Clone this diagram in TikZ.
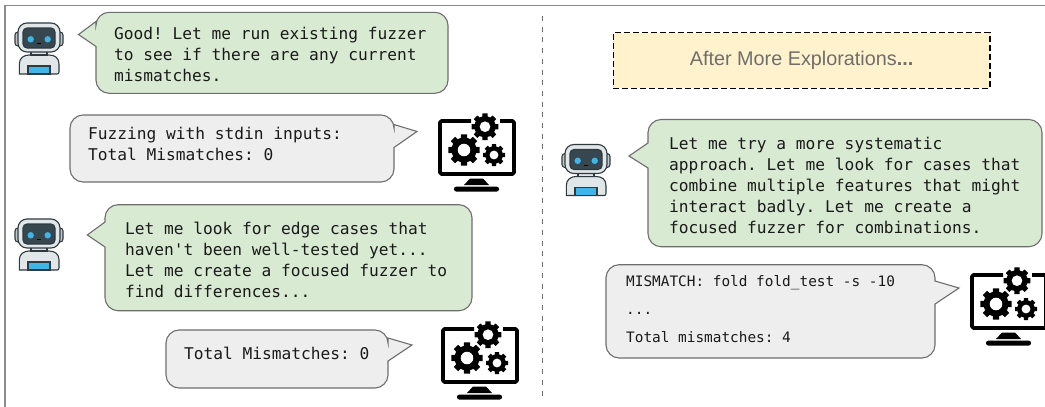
\documentclass[tikz,border=0pt]{standalone}
\usepackage{fontspec}
\setmonofont{DejaVu Sans Mono}
\setmainfont{Liberation Sans}
\definecolor{gbub}{HTML}{D9EAD3}
\definecolor{gybub}{HTML}{EEEEEE}
\definecolor{edgeg}{HTML}{6E6E6E}
\definecolor{yel}{HTML}{FFF2CC}
\definecolor{txt}{HTML}{1A1A1A}
\definecolor{robb}{HTML}{3FB5E8}
\definecolor{robd}{HTML}{2F3A40}
\definecolor{robs}{HTML}{37474F}
\definecolor{robl}{HTML}{E1E6E8}
\tikzset{
 x=1pt,y=-1pt,
 bub/.style={draw=edgeg,line width=1.1pt,line join=miter},
 greenbub/.style={bub,fill=gbub},
 graybub/.style={bub,fill=gybub},
 say/.style={font=\ttfamily\fontsize{16.2}{21}\selectfont,text=txt,inner sep=0pt,anchor=north west,align=left},
 mono/.style={font=\ttfamily\fontsize{14.4}{28}\selectfont,text=txt,inner sep=0pt,anchor=north west,align=left},
 robline/.style={draw=robd,line width=1.1pt},
}
\newcommand{\cTR}[2]{.. controls (#1-6,#2) and (#1,#2+6) .. (#1,#2+13)}
\newcommand{\cBR}[2]{.. controls (#1,#2-6) and (#1-6,#2) .. (#1-13,#2)}
\newcommand{\cBL}[2]{.. controls (#1+6,#2) and (#1,#2-6) .. (#1,#2-13)}
\newcommand{\cTL}[2]{.. controls (#1,#2+6) and (#1+6,#2) .. (#1+13,#2)}
\newcommand{\bubL}[7]{\path[#7] (#1+13,#2) -- (#3-13,#2) \cTR{#3}{#2} -- (#3,#4-13) \cBR{#3}{#4} -- (#1+13,#4) \cBL{#1}{#4} -- (#1,#6+12) -- (#5,#6) -- (#1,#6-13) -- (#1,#2+13) \cTL{#1}{#2} -- cycle;}
\newcommand{\bubR}[7]{\path[#7] (#1+13,#2) -- (#3-13,#2) \cTR{#3}{#2} -- (#3,#6-7) -- (#5,#6) -- (#3,#6+16) -- (#3,#4-13) \cBR{#3}{#4} -- (#1+13,#4) \cBL{#1}{#4} -- (#1,#2+13) \cTL{#1}{#2} -- cycle;}
\newcommand{\gearat}[3]{%
 \begin{scope}[shift={(#1,#2)}]
 \foreach \a in {0,45,...,315}{\fill[black,rotate=\a] (-.26*#3,0) -- (-.19*#3,#3) -- (.19*#3,#3) -- (.26*#3,0) -- cycle;}
 \fill[black] (0,0) circle[radius=.8*#3];
 \fill[white] (0,0) circle[radius=.4*#3];
 \end{scope}}
\newcommand{\monitorat}[2]{%
 \begin{scope}[shift={(#1,#2)}]
 \draw[black,line width=3.8pt,line join=round,rounded corners=1.5pt] (33,2) -- (2,2) -- (2,55) -- (76,55) -- (76,2) -- (62,2);
 \fill[black] (32,59.5) -- (45,59.5) -- (51,66) -- (26,66) -- cycle;
 \fill[black,rounded corners=2.2pt] (16,67.7) rectangle (61,72.5);
 \gearat{47}{7.7}{13.3}
 \gearat{26}{31}{15.7}
 \gearat{56}{36}{11}
 \end{scope}}
\newcommand{\robotat}[2]{%
 \begin{scope}[shift={(#1,#2)}]
 \path[robline,fill=robl] (5.3,52) -- (5.3,42) .. controls (5.3,36) and (10,33) .. (15,33) -- (35,33) .. controls (41,33) and (45,36) .. (45,42) -- (45,50) .. controls (45,51.5) and (44,52) .. (43,52) -- cycle;
 \path[robline,fill=robb] (14,52) -- (14,44) -- (36,44) -- (36,52) -- cycle;
 \path[robline,fill=robl] (17,29) rectangle (33,33);
 \path[robline,fill=robl!70!gray,rounded corners=3pt] (1,10) rectangle (49,24);
 \path[robline,fill=robl,rounded corners=9pt] (4,1) rectangle (46,30);
 \path[robline,fill=robs,rounded corners=4pt] (9,6) rectangle (41,26);
 \fill[robb] (16.7,17.3) circle[radius=3.2] (33.7,17.3) circle[radius=3.2];
 \draw[black,line width=.9pt] (23,21.5) -- (27,21.5);
 \end{scope}}
\begin{document}
\begin{tikzpicture}
\useasboundingbox (0,0) rectangle (1045,407);
\fill[white] (0,0) rectangle (1045,407);
\draw[gray!90,line width=1.3pt] (5,407) -- (5,5.5) -- (1045,5.5);
\draw[edgeg,line width=.9pt,dash pattern=on 5pt off 5.7pt] (542,16) -- (542,398);

\robotat{14}{22}
\bubL{96}{12.3}{448}{93.3}{78.5}{34.5}{greenbub}
\node[say] (a1) at (114,26.5) {Good! Let me run existing fuzzer\\to see if there are any current\\mismatches.};

\bubR{70}{115}{394}{182}{417}{131.5}{graybub}
\node[say] (a2) at (88,126.5) {Fuzzing with stdin inputs:\\Total Mismatches: 0};
\monitorat{438}{119}

\robotat{14}{218}
\bubL{105}{204.7}{472}{310.7}{87.3}{235}{greenbub}
\node[say] (a3) at (125,222) {Let me look for edge cases that\\haven't been well-tested yet...\\Let me create a focused fuzzer to\\find differences...};

\bubR{166}{330}{388}{388}{412}{345}{graybub}
\node[say] (a4) at (184,346.5) {Total Mismatches: 0};
\monitorat{441}{327}

\node[draw=black,line width=1.3pt,dash pattern=on 5.5pt off 3.5pt,fill=yel,minimum width=376.5pt,minimum height=55.5pt,inner sep=0pt] (b0) at (801.6,60.5) {\fontsize{19.8}{24}\selectfont\textcolor{edgeg}{After More Explorations\textbf{...}}};

\robotat{561}{143.5}
\bubL{648}{119.5}{1042}{246.7}{629}{156}{greenbub}
\node[say] (b1) at (669,137) {Let me try a more systematic\\approach. Let me look for cases that\\combine multiple features that might\\interact badly. Let me create a\\focused fuzzer for combinations.};

\bubR{606}{264.7}{935}{358}{959}{288}{graybub}
\node[mono] (b2) at (626,275) {MISMATCH: fold fold\_test -s -10\\...\\Total mismatches: 4};
\monitorat{970}{273}
\end{tikzpicture}
\end{document}
